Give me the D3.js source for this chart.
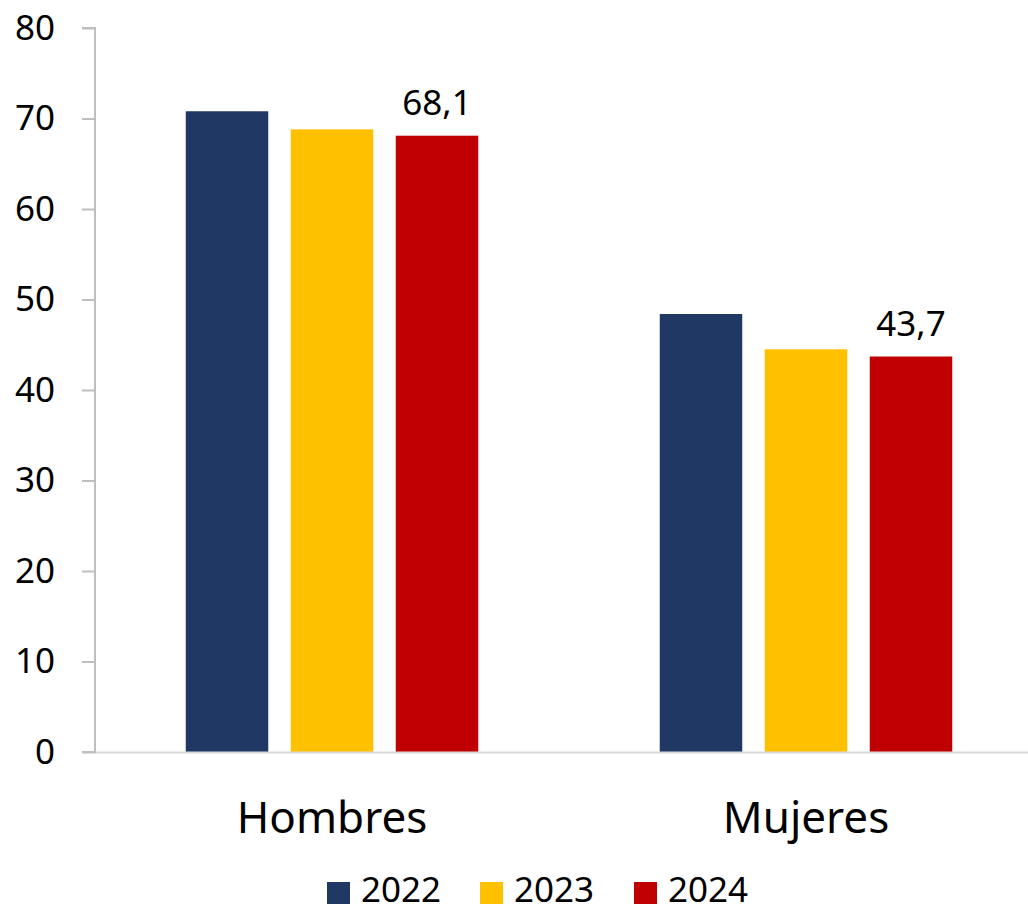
<!DOCTYPE html>
<html><head><meta charset="utf-8">
<script src="https://cdn.jsdelivr.net/npm/d3@7"></script>
<style>html,body{margin:0;padding:0;background:#fff;}svg{display:block;font-family:"Noto Sans",sans-serif;}</style>
</head><body>
<svg id="c" width="1028" height="913"></svg>
<script>
const categories = ["Hombres", "Mujeres"];
const years = ["2022", "2023", "2024"];
const values2022 = [70.8, 48.4];
const values2023 = [68.8, 44.5];
const values2024 = [68.1, 43.7];
const yTicks = [0, 10, 20, 30, 40, 50, 60, 70, 80];
const colors = ["#203864", "#FFC000", "#C00000"];
const labelYear = "2024";

const series = [values2022, values2023, values2024];
const data = categories.map((c, i) => ({cat: c, vals: years.map((y, j) => ({year: y, v: series[j][i]}))}));

const svg = d3.select("#c");
const mLeft = 95, mTop = 28, mBottom = 752;
const y = d3.scaleLinear().domain([0, 80]).range([mBottom, mTop]);
const x0 = d3.scaleBand().domain(categories).range([mLeft, mLeft + 948]).paddingInner(0).paddingOuter(0);
const groupW = 292.5;
const x1 = d3.scaleBand().domain(years).range([(x0.bandwidth() - groupW) / 2, (x0.bandwidth() + groupW) / 2]).paddingInner(22.5 / 105).paddingOuter(0);
const color = d3.scaleOrdinal().domain(years).range(colors);

// bars
const g = svg.append("g");
const groups = g.selectAll("g.grp").data(data).join("g").attr("class", "grp")
  .attr("transform", d => `translate(${x0(d.cat)},0)`);
groups.selectAll("rect").data(d => d.vals).join("rect")
  .attr("x", d => x1(d.year)).attr("width", x1.bandwidth())
  .attr("y", d => y(d.v)).attr("height", d => y(0) - y(d.v))
  .attr("fill", d => color(d.year));
groups.selectAll("text.lbl").data(d => d.vals.filter(v => v.year === labelYear)).join("text")
  .attr("class", "lbl")
  .attr("x", d => x1(d.year) + x1.bandwidth() / 2)
  .attr("y", d => y(d.v) - 21)
  .attr("text-anchor", "middle").attr("font-size", 35).attr("fill", "#000")
  .text(d => d3.format(".1f")(d.v).replace(".", ","));

// baseline
svg.append("line").attr("x1", mLeft).attr("x2", 1028).attr("y1", y(0) + 0.5).attr("y2", y(0) + 0.5)
  .attr("stroke", "#d9d9d9").attr("stroke-width", 2);

// y axis
const yAxis = d3.axisLeft(y).tickValues(yTicks).tickSize(13).tickPadding(27).tickFormat(d3.format("d"));
const ya = svg.append("g").attr("transform", `translate(${mLeft},0)`).call(yAxis);
ya.select(".domain").attr("stroke", "#bfbfbf").attr("stroke-width", 2).attr("d", `M-13,${y(80)}H0V${y(0)}H-13`);
ya.selectAll(".tick line").attr("stroke", "#bfbfbf").attr("stroke-width", 2);
ya.selectAll(".tick text").attr("font-size", 35).attr("fill", "#000").attr("font-family", '"Noto Sans",sans-serif');

// x axis labels
const xAxis = d3.axisBottom(x0).tickSize(0).tickPadding(50);
const xa = svg.append("g").attr("transform", `translate(0,${mBottom})`).call(xAxis);
xa.select(".domain").remove();
xa.selectAll(".tick text").attr("font-size", 44).attr("fill", "#000").attr("font-family", '"Noto Sans",sans-serif');

// legend
const legendX = [327, 480, 634];
const lg = svg.append("g").selectAll("g").data(years).join("g")
  .attr("transform", (d, i) => `translate(${legendX[i]},882)`);
lg.append("rect").attr("width", 23).attr("height", 22).attr("fill", d => color(d));
lg.append("text").attr("x", 34).attr("y", 20).attr("font-size", 35).attr("fill", "#000").text(d => d);
</script>
</body></html>
